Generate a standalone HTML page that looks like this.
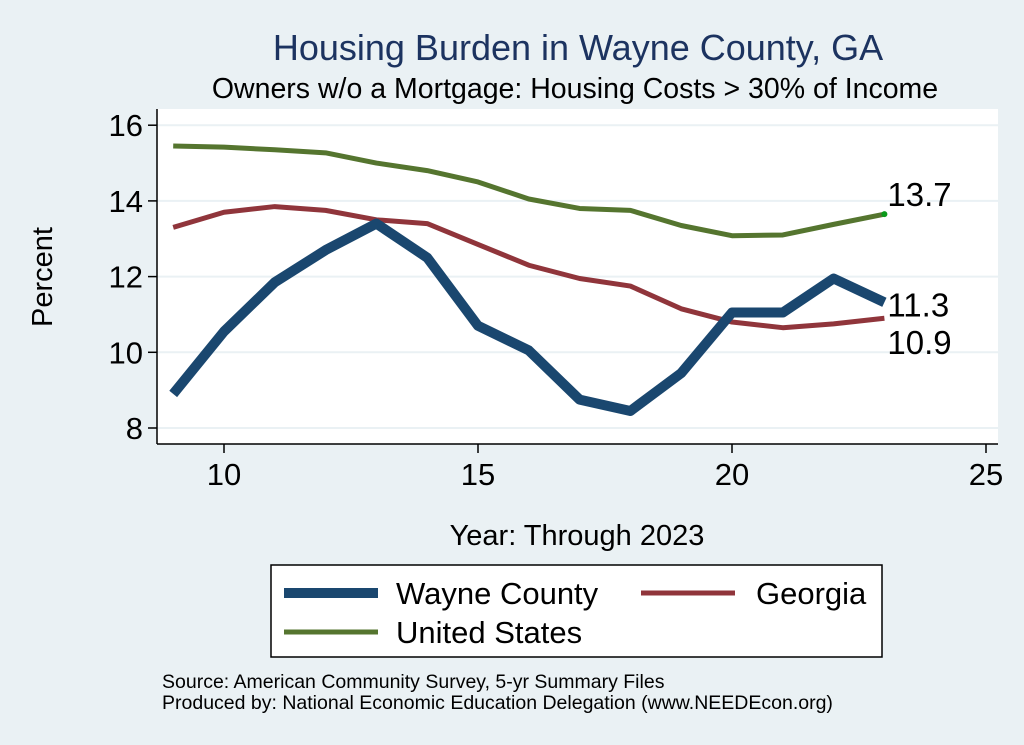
<!DOCTYPE html>
<html><head><meta charset="utf-8"><style>
body{margin:0;background:#eaf1f4;}
svg{display:block;font-family:"Liberation Sans",sans-serif;}
</style></head><body>
<svg width="1024" height="745">
<rect width="1024" height="745" fill="#eaf1f4"/>
<text x="578" y="60" text-anchor="middle" font-size="36" fill="#1c3360">Housing Burden in Wayne County, GA</text>
<text x="575" y="98" text-anchor="middle" font-size="28.5" fill="#000">Owners w/o a Mortgage: Housing Costs &gt; 30% of Income</text>
<rect x="157" y="109" width="841" height="335" fill="#fff"/>
<g id="grid"></g>
<g id="axes"></g>
<g id="lines"></g>
<text x="52" y="277" text-anchor="middle" font-size="29" transform="rotate(-90 52 277)">Percent</text>
<text x="577" y="545" text-anchor="middle" font-size="29">Year: Through 2023</text>
<g>
<rect x="271" y="565" width="611" height="92" fill="#fff" stroke="#000" stroke-width="1.5"/>
<g><line x1="284" y1="593" x2="378" y2="593" stroke="#1a476f" stroke-width="10"/><text x="396" y="604" font-size="31">Wayne County</text></g>
<g><line x1="641" y1="593" x2="735" y2="593" stroke="#90353b" stroke-width="5"/><text x="756" y="604" font-size="31">Georgia</text></g>
<g><line x1="284" y1="632" x2="378" y2="632" stroke="#55752f" stroke-width="5"/><text x="396" y="643" font-size="31">United States</text></g>
</g>
<text x="162" y="688" font-size="19.5">Source: American Community Survey, 5-yr Summary Files</text>
<text x="162" y="709" font-size="19.5">Produced by: National Economic Education Delegation (www.NEEDEcon.org)</text>
</svg>
<script>
const years=[9,10,11,12,13,14,15,16,17,18,19,20,21,22,23];
const wayne=[8.9,10.55,11.85,12.7,13.4,12.5,10.7,10.05,8.75,8.45,9.45,11.05,11.05,11.95,11.32];
const georgia=[13.3,13.7,13.85,13.75,13.5,13.4,12.85,12.3,11.95,11.75,11.15,10.8,10.65,10.75,10.9];
const us=[15.45,15.42,15.35,15.27,15.0,14.8,14.5,14.05,13.8,13.75,13.35,13.08,13.1,13.38,13.65];
const xTicks=[10,15,20,25];
const yTicks=[8,10,12,14,16];
const NS='http://www.w3.org/2000/svg';
const xs=v=>224+(v-10)*50.8;
const ys=v=>428-(v-8)*37.85;
function mk(t,a,p){const e=document.createElementNS(NS,t);for(const k in a)e.setAttribute(k,a[k]);p.appendChild(e);return e;}
const g=document.getElementById('grid'),ax=document.getElementById('axes'),ln=document.getElementById('lines');
yTicks.forEach(v=>{
 const l=mk('line',{x1:157,x2:998,y1:ys(v),y2:ys(v),stroke:'#eaf1f4','stroke-width':2},g);
 
 
 const t=mk('line',{x1:148,x2:157,y1:ys(v),y2:ys(v),stroke:'#000','stroke-width':1.5},ax);
 
 
 const tx=mk('text',{x:143,y:ys(v)+11,'text-anchor':'end','font-size':31},ax);tx.textContent=v;
 
 
});
xTicks.forEach(v=>{
 const t=mk('line',{x1:xs(v),x2:xs(v),y1:444,y2:453,stroke:'#000','stroke-width':1.5},ax);
 
 
 const tx=mk('text',{x:xs(v),y:485,'text-anchor':'middle','font-size':31},ax);tx.textContent=v;
 
 
});
const a1=mk('line',{x1:157,x2:157,y1:109,y2:444,stroke:'#000','stroke-width':1.5},ax);


const a2=mk('line',{x1:157,x2:998,y1:444,y2:444,stroke:'#000','stroke-width':1.5},ax);


function series(vals,col,w,name){
 const p=mk('polyline',{points:years.map((y,i)=>xs(y)+','+ys(vals[i])).join(' '),fill:'none',stroke:col,'stroke-width':w,'stroke-linejoin':'round'},ln);
 
 
}
series(us,'#55752f',5,'line-united-states');
series(georgia,'#90353b',5,'line-georgia');
series(wayne,'#1a476f',10,'line-wayne-county');
const last=years.length-1;
const dot=mk('circle',{cx:xs(years[last]),cy:ys(us[last]),r:3,fill:'#0a9a1a'},ln);


[[us,-8,'label-us'],[wayne,14,'label-wayne'],[georgia,36,'label-georgia']].forEach(([s,dy,n])=>{
 const t=mk('text',{x:xs(years[last])+3,y:ys(s[last])+dy,'font-size':33},ln);
 t.textContent=(Math.round(s[last]*10)/10).toFixed(1);
 
 
});
</script>
</body></html>
